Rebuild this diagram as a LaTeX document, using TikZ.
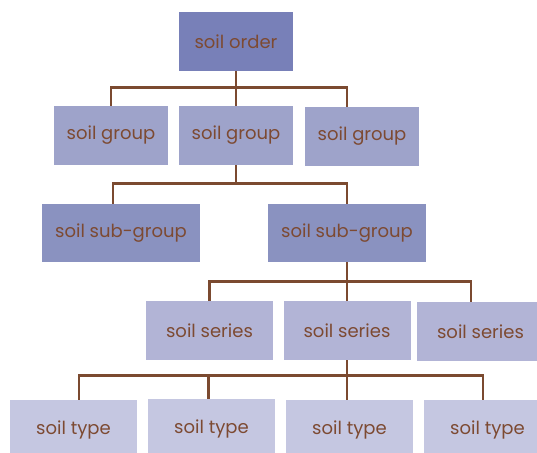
\documentclass[tikz,border=0pt]{standalone}
\usepackage{fontspec}
\setmainfont{Poppins}
\definecolor{soiltext}{HTML}{7D4A32}
\definecolor{soilline}{HTML}{7B4A30}
\definecolor{ordercol}{HTML}{7880B8}
\definecolor{groupcol}{HTML}{9EA3CA}
\definecolor{subcol}{HTML}{8A92C0}
\definecolor{seriescol}{HTML}{B2B4D6}
\definecolor{typecol}{HTML}{C5C7E1}

\begin{document}
\begin{tikzpicture}[x=1pt,y=-1pt]
    \tikzstyle{box}=[rectangle, inner sep=0pt, minimum height=59pt, text=soiltext, font=\fontsize{18}{20}\selectfont]
    \tikzstyle{link}=[draw=soilline, line width=2.6pt]
    \clip (0,0) rectangle (537,452);

    \node[box, fill=ordercol, minimum width=114pt]  (order) at (236,41.5)  {soil order};

    \node[box, fill=groupcol, minimum width=114pt]  (g1) at (111,135.5) {soil group};
    \node[box, fill=groupcol, minimum width=114pt]  (g2) at (236,135.5) {soil group};
    \node[box, fill=groupcol, minimum width=114pt]  (g3) at (362,136.5) {soil group};

    \node[box, fill=subcol, minimum width=158pt, minimum height=58pt] (s1) at (121,233) {soil sub-group};
    \node[box, fill=subcol, minimum width=158pt, minimum height=58pt] (s2) at (347,233) {soil sub-group};

    \node[box, fill=seriescol, minimum width=127pt] (r1) at (209.5,330.5) {soil series};
    \node[box, fill=seriescol, minimum width=127pt] (r2) at (347,330.5)   {soil series};
    \node[box, fill=seriescol, minimum width=127pt] (r3) at (480.5,331.5) {soil series};

    \node[box, fill=typecol, minimum width=127pt] (t1) at (73.5,429.5)  {soil type};
    \node[box, fill=typecol, minimum width=127pt] (t2) at (211.5,428.5) {soil type};
    \node[box, fill=typecol, minimum width=127pt] (t3) at (349.5,429.5) {soil type};
    \node[box, fill=typecol, minimum width=127pt] (t4) at (487.5,429.5) {soil type};

    % connectors
    \foreach \c/\dx in {g1/0,g2/0,g3/-15}
        \draw[link] (order.south) -- ++(0,16.5) -| ([xshift=\dx]\c.north);
    \foreach \c/\dx in {s1/-8,s2/0}
        \draw[link] (g2.south) -- ++(0,18.5) -| ([xshift=\dx]\c.north);
    \foreach \c/\dx in {r1/0,r2/0,r3/-9.5}
        \draw[link] (s2.south) -- ++(0,19) -| ([xshift=\dx]\c.north);
    \foreach \c/\dx in {t1/5.5,t2/-3,t3/-2.5,t4/-4.5}
        \draw[link] (r2.south) -- ++(0,15.5) -| ([xshift=\dx]\c.north);
\end{tikzpicture}
\end{document}
